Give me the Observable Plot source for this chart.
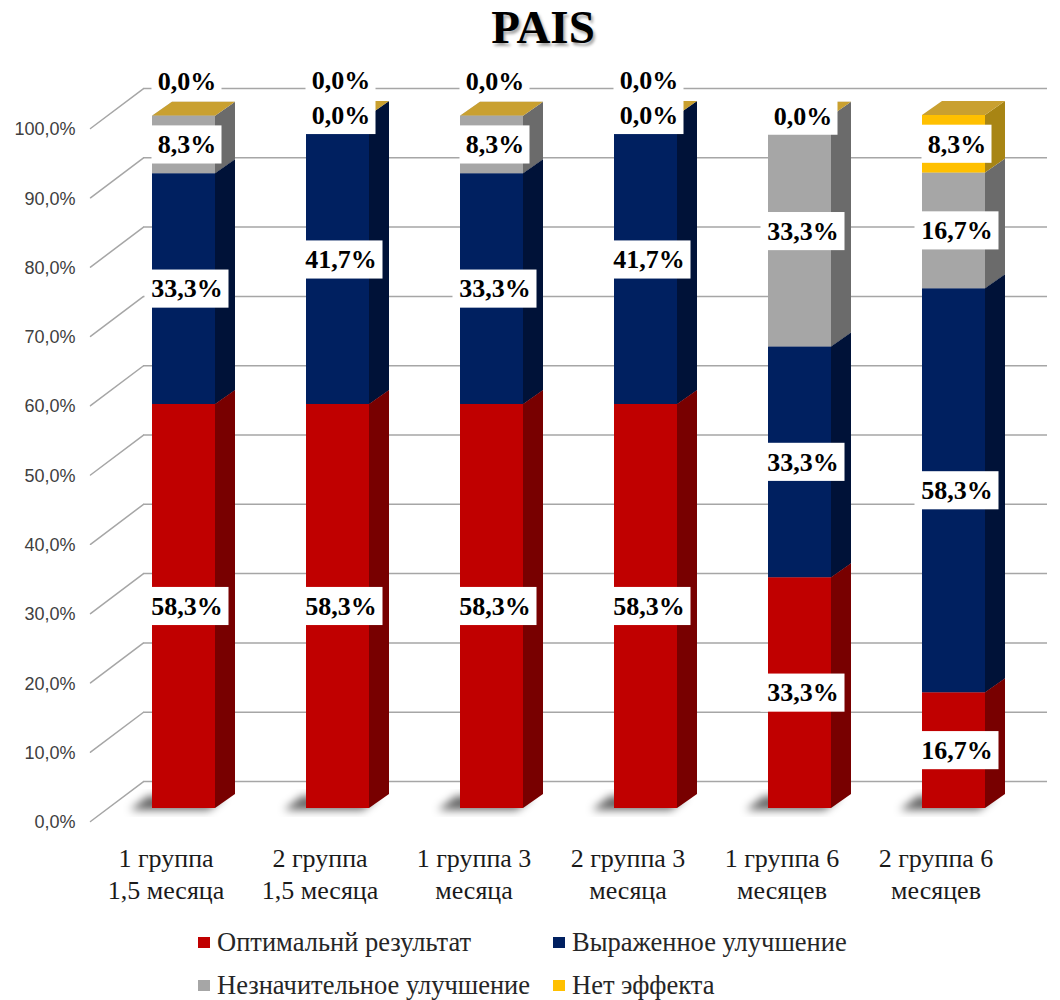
<!DOCTYPE html>
<html>
<head>
<meta charset="utf-8">
<script src="https://cdn.jsdelivr.net/npm/d3@7"></script>
<script src="https://cdn.jsdelivr.net/npm/@observablehq/plot@0.6"></script>
<style>
  body { margin: 0; background: #fff; }
  #wrap { position: relative; width: 1060px; height: 1000px; overflow: hidden; }
  #title { position: absolute; left: 0; top: 0; width: 1060px; height: 56px; line-height: 56px;
           text-align: center; font: bold 47px "Liberation Serif", "DejaVu Serif", serif; color: #000;
           padding-left: 26px; box-sizing: border-box; text-shadow: 2px 3px 3px rgba(0,0,0,0.35); }
  #chart { position: absolute; left: 0; top: 60px; }
  .leg { position: absolute; height: 30px; line-height: 30px; display: flex; align-items: center;
         font: 26.5px "Liberation Serif", "DejaVu Serif", serif; color: #262626; white-space: nowrap; }
  .sw { width: 12px; height: 11px; margin-right: 7px; flex: none; }
</style>
</head>
<body>
<div id="wrap">
  <div id="title">PAIS</div>
  <div id="chart"></div>
  <div id="legend"></div>
</div>
<script>
// ---- data ----
const groups = ["1 группа\n1,5 месяца", "2 группа\n1,5 месяца", "1 группа 3\nмесяца", "2 группа 3\nмесяца", "1 группа 6\nмесяцев", "2 группа 6\nмесяцев"];
const series = ["Оптимальнй результат", "Выраженное улучшение", "Незначительное улучшение", "Нет эффекта"];
const optimal       = [58.3, 58.3, 58.3, 58.3, 33.3, 16.7];
const expressed     = [33.3, 41.7, 33.3, 41.7, 33.3, 58.3];
const insignificant = [8.3, 0.0, 8.3, 0.0, 33.3, 16.7];
const noEffect      = [0.0, 0.0, 0.0, 0.0, 0.0, 8.3];
const yTicks = [0, 10, 20, 30, 40, 50, 60, 70, 80, 90, 100];

// ---- styles ----
const serifFont = "Liberation Serif, DejaVu Serif, serif";
const frontColors = ["#C00000", "#002060", "#A6A6A6", "#FFC000"];
const sideColors  = ["#780000", "#001238", "#6B6B6B", "#A88514"];
const topColors   = ["#9E0000", "#001A4C", "#BFBFBF", "#C9A030"];

const valuesBySeries = [optimal, expressed, insignificant, noEffect];
const rows = [];
groups.forEach((g, i) => {
  let acc = 0;
  series.forEach((s, j) => {
    const v = valuesBySeries[j][i];
    const y1 = acc, y2 = acc + v;
    acc = y2;
    const mid = (y1 + y2) / 2;
    // Excel nudges the zero label on top up when it would collide with the label below it
    const nudge = (j === 3 && v === 0 && insignificant[i] < 10) ? 5 : 0;
    rows.push({group: g, series: s, si: j, value: v, y1, y2, ly: mid + nudge,
               label: v.toFixed(1).replace(".", ",") + "%"});
  });
});

const fmtTick = d => d.toFixed(1).replace(".", ",") + "%";

function faces(index, scales) {
  const x = scales.x, y = scales.y;
  const bw = typeof x.bandwidth === "function" ? x.bandwidth() : 63;
  const DX = 20, DY = -14;
  const g = d3.create("svg:g");
  const f = g.append("defs").append("filter").attr("id", "shblur")
    .attr("x", "-50%").attr("y", "-50%").attr("width", "200%").attr("height", "200%");
  f.append("feGaussianBlur").attr("stdDeviation", 4);
  for (const gname of groups) {
    const xl = x(gname), xr = xl + bw, y0 = y(0);
    g.append("polygon")
      .attr("points", [[xl - 22, y0 + 2], [xr - 6, y0 + 2], [xr + 10, y0 - 12], [xl - 4, y0 - 12]].map(p => p.join(",")).join(" "))
      .attr("fill", "rgba(0,0,0,0.6)").attr("filter", "url(#shblur)");
  }
  for (const d of rows) {
    const xl = x(d.group), xr = xl + bw;
    const Y1 = y(d.y1), Y2 = y(d.y2);
    g.append("polygon")
      .attr("points", [[xr, Y1], [xr, Y2], [xr + DX, Y2 + DY], [xr + DX, Y1 + DY]].map(p => p.join(",")).join(" "))
      .attr("fill", sideColors[d.si]);
    g.append("polygon")
      .attr("points", [[xl, Y2], [xr, Y2], [xr + DX, Y2 + DY], [xl + DX, Y2 + DY]].map(p => p.join(",")).join(" "))
      .attr("fill", topColors[d.si]);
  }
  return g.node();
}

const lineShape = {draw(context, l) { context.moveTo(0, 0); context.lineTo(0, -l); }};

const long = rows.filter(d => d.label.length >= 5);
const short = rows.filter(d => d.label.length < 5);

const chart = Plot.plot({
  width: 1060,
  height: 850,
  marginTop: 55,
  marginBottom: 102,
  marginLeft: 121,
  marginRight: 43,
  x: {domain: groups, paddingInner: 0.59, paddingOuter: 0.2, label: null},
  y: {domain: [0, 100], axis: null},
  color: {domain: series, range: frontColors},
  marks: [
    Plot.ruleY(yTicks, {y: d => d, dx: 22, dy: -27, insetRight: -8, stroke: "#A6A6A6", strokeWidth: 1.5}),
    Plot.vector(yTicks, {y: d => d, frameAnchor: "left", dx: -31, dy: 13, length: 66, rotate: 53,
      anchor: "start", shape: lineShape, stroke: "#A6A6A6", strokeWidth: 1.5}),
    Plot.text(yTicks, {y: d => d, text: fmtTick, frameAnchor: "left", dx: -46, dy: 14, textAnchor: "end",
      fontSize: 18, fontFamily: "Liberation Sans, Arial, sans-serif", fill: "#404040"}),
    faces,
    Plot.barY(rows, {x: "group", y1: "y1", y2: "y2", fill: "series"}),
    Plot.barY(long, {x: "group", y1: d => d.ly - 2.75, y2: d => d.ly + 2.75, fill: "white", insetLeft: -7.5, insetRight: -13.5}),
    Plot.barY(short, {x: "group", y1: d => d.ly - 2.75, y2: d => d.ly + 2.75, fill: "white", insetLeft: -0.5, insetRight: -6.5}),
    Plot.text(rows, {x: "group", y: "ly", text: "label", dx: 3, fontSize: 26, fontWeight: "bold",
      fontFamily: serifFont, fill: "#000"}),
    Plot.axisX({tickSize: 0, tickPadding: 36, dx: -18, fontSize: 26, lineHeight: 1.23, label: null,
      fontFamily: serifFont, fill: "#1a1a1a"})
  ]
});
document.getElementById("chart").appendChild(chart);

// legend (HTML, below the SVG)
const legend = document.getElementById("legend");
const legPos = [[198, 927], [553, 927], [198, 970], [553, 970]];
series.forEach((s, j) => {
  const el = document.createElement("div");
  el.className = "leg";
  el.style.left = legPos[j][0] + "px";
  el.style.top = legPos[j][1] + "px";
  el.innerHTML = `<span class="sw" style="background:${frontColors[j]}"></span><span>${s}</span>`;
  legend.appendChild(el);
});
</script>
</body>
</html>
